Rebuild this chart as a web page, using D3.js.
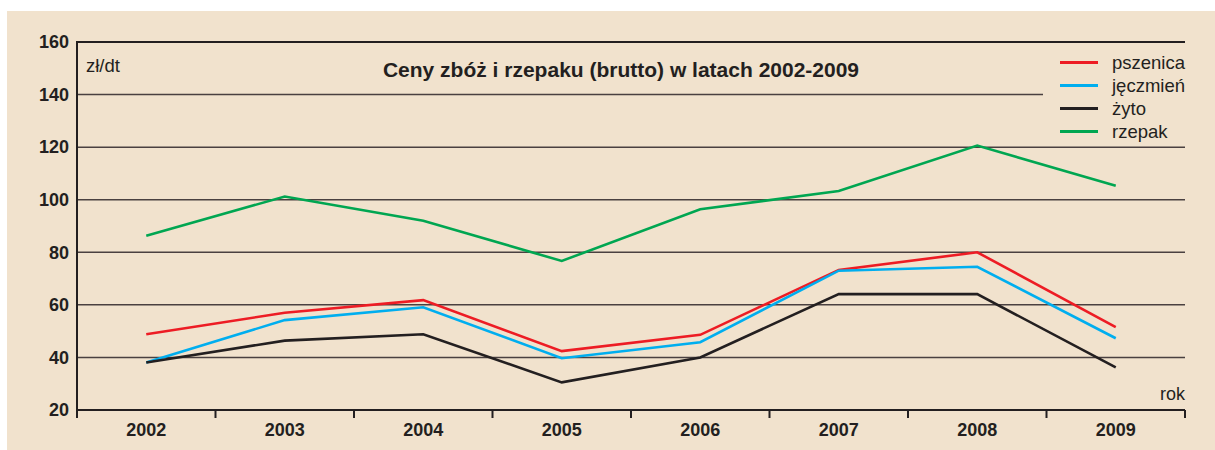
<!DOCTYPE html>
<html>
<head>
<meta charset="utf-8">
<script src="https://cdn.jsdelivr.net/npm/d3@7"></script>
<style>
  body { margin: 0; background: #fff; }
  svg { display: block; font-family: "Liberation Sans", Arial, sans-serif; }
</style>
</head>
<body>
<svg width="1215" height="450"></svg>
<script>
const years = ["2002", "2003", "2004", "2005", "2006", "2007", "2008", "2009"];
const pszenica = [48.8, 57.0, 61.8, 42.4, 48.6, 73.3, 80.0, 51.5];
const jeczmien = [38.1, 54.2, 59.1, 39.7, 45.8, 73.0, 74.5, 47.3];
const zyto = [38.1, 46.4, 48.8, 30.5, 40.0, 64.1, 64.1, 36.2];
const rzepak = [86.3, 101.2, 92.0, 76.7, 96.4, 103.3, 120.6, 105.3];
const yTicks = [20, 40, 60, 80, 100, 120, 140, 160];

const series = [
  { name: "pszenica", values: pszenica, color: "#ed1c24" },
  { name: "jęczmień", values: jeczmien, color: "#00aeef" },
  { name: "żyto", values: zyto, color: "#231f20" },
  { name: "rzepak", values: rzepak, color: "#00a651" }
];

const svg = d3.select("svg");
const plotLeft = 77, plotRight = 1185, plotTop = 42, plotBottom = 410;

svg.append("rect")
  .attr("x", 7).attr("y", 11)
  .attr("width", 1208).attr("height", 439)
  .attr("fill", "#f1e2cd");

const x = d3.scaleBand().domain(years).range([plotLeft, plotRight]);
const y = d3.scaleLinear().domain([20, 160]).range([plotBottom, plotTop]);

// grid lines (140 is cut short by the legend)
svg.append("g")
  .selectAll("line")
  .data(yTicks.filter(d => d > 20))
  .enter()
  .append("line")
  .attr("x1", plotLeft)
  .attr("x2", d => (d === 140 ? 1043 : plotRight))
  .attr("y1", d => y(d))
  .attr("y2", d => y(d))
  .style("stroke", d => (d === 160 ? "#231f20" : "#4a4040"))
  .style("stroke-width", d => (d === 160 ? 2 : 1.5));

// y axis
const yAxis = svg.append("g")
  .attr("transform", `translate(${plotLeft},0)`)
  .call(d3.axisLeft(y).tickValues(yTicks).tickSize(0).tickPadding(8));
yAxis.select(".domain").remove();
yAxis.selectAll("text")
  .style("font-size", "18px")
  .style("font-weight", "bold")
  .style("fill", "#231f20")
  .style("font-family", "'Liberation Sans', Arial, sans-serif");

svg.append("line")
  .attr("x1", plotLeft).attr("x2", plotLeft)
  .attr("y1", plotTop - 1).attr("y2", plotBottom + 8)
  .style("stroke", "#231f20").style("stroke-width", 2);

// x axis
const xAxis = svg.append("g")
  .attr("transform", `translate(0,${plotBottom})`)
  .call(d3.axisBottom(x).tickSize(0).tickPadding(13));
xAxis.select(".domain").remove();
xAxis.selectAll("text")
  .style("font-size", "18px")
  .style("font-weight", "bold")
  .style("fill", "#231f20")
  .style("font-family", "'Liberation Sans', Arial, sans-serif");

svg.append("line")
  .attr("x1", plotLeft).attr("x2", plotRight)
  .attr("y1", plotBottom).attr("y2", plotBottom)
  .style("stroke", "#231f20").style("stroke-width", 2);

svg.append("g")
  .selectAll("line")
  .data(years.slice(1).concat(["end"]))
  .enter()
  .append("line")
  .attr("x1", d => (d === "end" ? plotRight : x(d)))
  .attr("x2", d => (d === "end" ? plotRight : x(d)))
  .attr("y1", plotBottom)
  .attr("y2", plotBottom + 8)
  .style("stroke", "#231f20")
  .style("stroke-width", 2);

// lines
const line = d3.line()
  .x((d, i) => x(years[i]) + x.bandwidth() / 2)
  .y(d => y(d));

svg.append("g")
  .selectAll("path")
  .data(series)
  .enter()
  .append("path")
  .attr("d", d => line(d.values))
  .attr("fill", "none")
  .style("stroke", d => d.color)
  .style("stroke-width", 2.6)
  .style("stroke-linejoin", "miter");

// title and labels
svg.append("text")
  .attr("x", 621).attr("y", 77)
  .attr("text-anchor", "middle")
  .style("font-size", "21px")
  .style("font-weight", "bold")
  .style("fill", "#231f20")
  .text("Ceny zbóż i rzepaku (brutto) w latach 2002-2009");

svg.append("text")
  .attr("x", 86).attr("y", 72)
  .style("font-size", "18.5px")
  .style("fill", "#231f20")
  .text("zł/dt");

svg.append("text")
  .attr("x", plotRight).attr("y", 400)
  .attr("text-anchor", "end")
  .style("font-size", "18px")
  .style("fill", "#231f20")
  .text("rok");

// legend
const legend = svg.append("g")
  .selectAll("g")
  .data(series)
  .enter()
  .append("g")
  .attr("transform", (d, i) => `translate(1060,${62.5 + i * 23})`);

legend.append("line")
  .attr("x1", 0).attr("x2", 38)
  .style("stroke", d => d.color)
  .style("stroke-width", 3);

legend.append("text")
  .attr("x", 52).attr("y", 6.5)
  .style("font-size", "18.5px")
  .style("fill", "#231f20")
  .text(d => d.name);
</script>
</body>
</html>
